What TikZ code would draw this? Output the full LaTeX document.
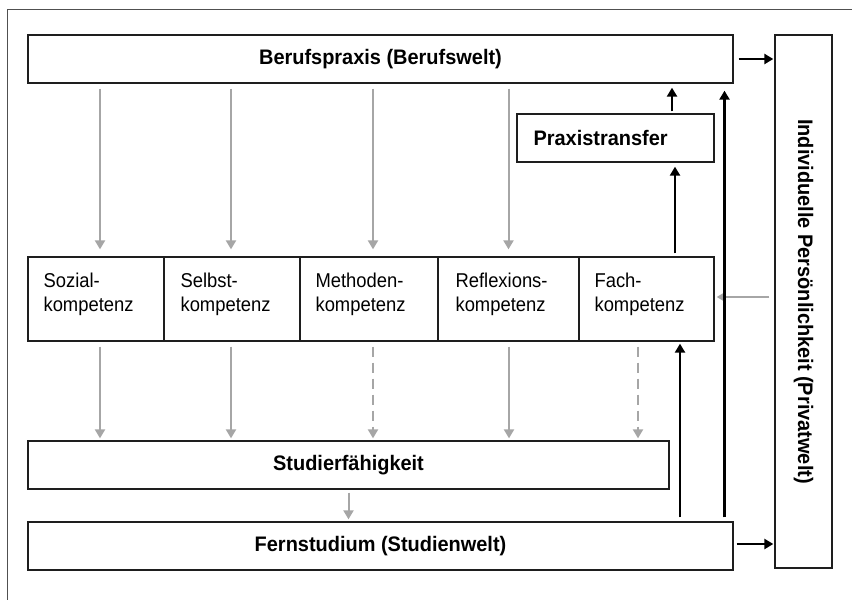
\documentclass[tikz,border=0pt]{standalone}
\usepackage{fontspec}
\setmainfont{Liberation Sans}
\newfontfamily\headfont[FakeStretch=0.95]{Liberation Sans}
\newfontfamily\bodyfont[FakeStretch=0.92]{Liberation Sans}
\usetikzlibrary{arrows.meta,calc}

\definecolor{linegray}{RGB}{166,166,166}
\definecolor{framegray}{RGB}{80,80,80}
\definecolor{boxline}{RGB}{30,30,30}

\tikzset{
  box/.style={draw=boxline, line width=1.3pt, inner sep=0pt, rectangle},
  headfont/.style={font=\headfont\bfseries\fontsize{21}{24}\selectfont},
  headbox/.style={box, headfont},
  kompbox/.style={box, minimum height=84pt},
  komptext/.style={label={[anchor=north west, inner sep=0pt, align=left,
    font=\bodyfont\fontsize{20}{24.3}\selectfont, xshift=#1, yshift=-16pt]north west:\komplabel}},
  ga/.style={draw=linegray, line width=2pt, -{Triangle[length=9pt,width=10pt]}},
  gadash/.style={ga, dash pattern=on 10pt off 6pt},
  ba/.style={draw=black, line width=2.6pt, -{Triangle[length=9pt,width=10pt]}},
}
\newcommand\komplabel{}

\begin{document}
\begin{tikzpicture}[x=1pt, y=-1pt]
\useasboundingbox (0,0) rectangle (852,600);
\fill[white] (0,0) rectangle (852,600);

% outer frame (top and left edges)
\draw[framegray, line width=1pt] (7,600) -- (7,9) -- (852,9);

% main boxes
\node[headbox, minimum width=705pt, minimum height=48pt] (bp) at (380.5,59) {Berufspraxis (Berufswelt)};
\node[headbox, minimum width=641pt, minimum height=48pt] (sf) at (348.5,465) {Studierfähigkeit};
\node[headbox, minimum width=705pt, minimum height=48pt] (fs) at (380.5,546) {Fernstudium (Studienwelt)};
\node[headbox, minimum width=197pt, minimum height=48pt, text width=164pt, align=left, inner xsep=16.5pt] (pt) at (615.5,138) {Praxistransfer};
\node[box, minimum width=57pt, minimum height=533pt] (pw) at (803.5,301.5) {};
\node[headfont, rotate=-90] (pwtext) at (pw.center) {Individuelle Persönlichkeit (Privatwelt)};

% competence boxes
\renewcommand\komplabel{Sozial-\\kompetenz}
\node[kompbox, minimum width=136pt, komptext=16pt] (soz) at (96,299) {};
\renewcommand\komplabel{Selbst-\\kompetenz}
\node[kompbox, minimum width=136pt, komptext=17pt] (slb) at (232,299) {};
\renewcommand\komplabel{Methoden-\\kompetenz}
\node[kompbox, minimum width=138pt, komptext=16pt] (met) at (369,299) {};
\renewcommand\komplabel{Reflexions-\\kompetenz}
\node[kompbox, minimum width=141pt, komptext=18pt] (ref) at (508.5,299) {};
\renewcommand\komplabel{Fach-\\kompetenz}
\node[kompbox, minimum width=135pt, komptext=16pt] (fach) at (646.5,299) {};

% Berufspraxis -> competences
\draw[ga, shorten <=5pt, shorten >=7pt] ($(bp.south -| soz.north)+(4,0)$) -- ($(soz.north)+(4,0)$);
\draw[ga, shorten <=5pt, shorten >=7pt] ($(bp.south -| slb.north)+(-1,0)$) -- ($(slb.north)+(-1,0)$);
\draw[ga, shorten <=5pt, shorten >=7pt] ($(bp.south -| met.north)+(4,0)$) -- ($(met.north)+(4,0)$);
\draw[ga, shorten <=5pt, shorten >=7pt] ($(bp.south -| ref.north)+(0,0)$) -- ($(ref.north)+(0,0)$);

% competences -> Studierfaehigkeit
\draw[ga, shorten <=5pt, shorten >=2pt] ($(soz.south)+(4,0)$) -- ($(sf.north -| soz.south)+(4,0)$);
\draw[ga, shorten <=5pt, shorten >=2pt] ($(slb.south)+(-1,0)$) -- ($(sf.north -| slb.south)+(-1,0)$);
\draw[gadash, shorten <=5pt, shorten >=2pt] ($(met.south)+(4,0)$) -- ($(sf.north -| met.south)+(4,0)$);
\draw[ga, shorten <=5pt, shorten >=2pt] ($(ref.south)+(0.5,0)$) -- ($(sf.north -| ref.south)+(0.5,0)$);
\draw[gadash, shorten <=5pt, shorten >=2pt] ($(fach.south)+(-8.5,0)$) -- ($(sf.north -| fach.south)+(-8.5,0)$);

% Studierfaehigkeit -> Fernstudium
\draw[ga, shorten <=3pt, shorten >=2pt] (sf.south) -- (sf.south |- fs.north);

% private world -> Fachkompetenz
\draw[ga, shorten <=5pt, shorten >=2pt] ($(pw.west |- fach.east)+(0,-2)$) -- ($(fach.east)+(0,-2)$);

% transfer paths
\draw[ba, shorten <=3pt, shorten >=4pt] ($(fach.north)+(28.5,0)$) -- ($(pt.south -| fach.north)+(28.5,0)$);
\draw[ba, shorten <=2pt, shorten >=4pt] ($(pt.north)+(56.5,0)$) -- ($(bp.south -| pt.north)+(56.5,0)$);
\draw[ba, shorten <=4pt, shorten >=2pt] ($(fs.north -| fach.south)+(33.5,0)$) -- ($(fach.south)+(33.5,0)$);
\draw[ba, shorten <=4pt, shorten >=7pt] ($(fs.north)+(344,0)$) -- ($(bp.south -| fs.north)+(344,0)$);

% links to the private world
\draw[ba, shorten <=5pt, shorten >=1pt] (bp.east) -- (bp.east -| pw.west);
\draw[ba, shorten <=3pt, shorten >=1pt] ($(fs.east)+(0,-2)$) -- ($(fs.east -| pw.west)+(0,-2)$);
\end{tikzpicture}
\end{document}
